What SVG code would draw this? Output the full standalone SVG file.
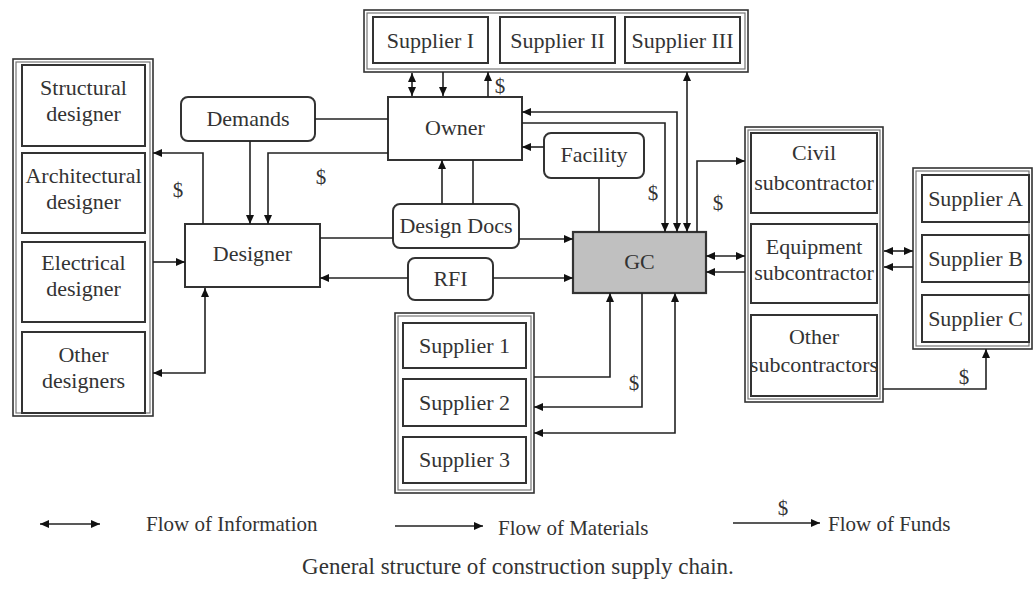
<svg xmlns="http://www.w3.org/2000/svg" width="1036" height="594" viewBox="0 0 1036 594">
  <style>
    .txt { font-family: "Liberation Serif", "Times New Roman", serif; font-size: 22px; fill: #333; text-anchor: middle; }
    .leg { font-family: "Liberation Serif", "Times New Roman", serif; font-size: 21px; fill: #333; }
    .cap { font-family: "Liberation Serif", "Times New Roman", serif; font-size: 23px; fill: #333; text-anchor: middle; }
    .usd { font-family: "Liberation Serif", "Times New Roman", serif; font-size: 21px; fill: #333; text-anchor: middle; }
    .box { fill: #fff; stroke: #333; stroke-width: 2; }
    .rbox { fill: #fff; stroke: #333; stroke-width: 2; }
    .outer { fill: #fff; stroke: #333; stroke-width: 1.6; }
    .inner { fill: none; stroke: #777; stroke-width: 1.2; }
    .ln { fill: none; stroke: #222; stroke-width: 1.6; }
  </style>
  <defs>
    <marker id="ah" markerUnits="userSpaceOnUse" markerWidth="10" markerHeight="10" refX="9" refY="5" orient="auto-start-reverse">
      <path d="M0,1 L9,5 L0,9 Z" fill="#111"/>
    </marker>
  </defs>
  <rect width="1036" height="594" fill="#fff"/>

  <!-- Top supplier group -->
  <g id="top-suppliers">
    <rect class="outer" x="364" y="10" width="384" height="62"/>
    <rect class="inner" x="367" y="13" width="378" height="56"/>
    <g id="supplier-I"><rect class="box" x="373" y="17" width="115" height="46"/><text class="txt" x="430.5" y="48">Supplier I</text></g>
    <g id="supplier-II"><rect class="box" x="500" y="17" width="115" height="46"/><text class="txt" x="557.5" y="48">Supplier II</text></g>
    <g id="supplier-III"><rect class="box" x="625" y="17" width="115" height="46"/><text class="txt" x="682.5" y="48">Supplier III</text></g>
  </g>

  <!-- Designers group -->
  <g id="designers">
    <rect class="outer" x="13" y="59" width="140" height="357"/>
    <rect class="inner" x="16" y="62" width="134" height="351"/>
    <g id="structural"><rect class="box" x="22" y="65" width="123" height="81"/><text class="txt" x="83.5" y="95">Structural</text><text class="txt" x="83.5" y="121">designer</text></g>
    <g id="architectural"><rect class="box" x="22" y="153" width="123" height="80"/><text class="txt" x="83.5" y="183">Architectural</text><text class="txt" x="83.5" y="209">designer</text></g>
    <g id="electrical"><rect class="box" x="22" y="242" width="123" height="80"/><text class="txt" x="83.5" y="270">Electrical</text><text class="txt" x="83.5" y="296">designer</text></g>
    <g id="other-designers"><rect class="box" x="22" y="332" width="123" height="81"/><text class="txt" x="83.5" y="362">Other</text><text class="txt" x="83.5" y="388">designers</text></g>
  </g>

  <g id="demands"><rect class="rbox" x="181" y="97" width="134" height="44" rx="7"/><text class="txt" x="248" y="126">Demands</text></g>
  <g id="owner"><rect class="box" x="388" y="97" width="134" height="63"/><text class="txt" x="455" y="135">Owner</text></g>
  <g id="facility"><rect class="rbox" x="544" y="133" width="100" height="45" rx="7"/><text class="txt" x="594" y="162">Facility</text></g>
  <g id="designer"><rect class="box" x="185" y="224" width="135" height="63"/><text class="txt" x="252.5" y="261">Designer</text></g>
  <g id="design-docs"><rect class="rbox" x="393" y="204" width="126" height="44" rx="7"/><text class="txt" x="456" y="233">Design Docs</text></g>
  <g id="rfi"><rect class="rbox" x="408" y="258" width="85" height="42" rx="7"/><text class="txt" x="450.5" y="286">RFI</text></g>
  <g id="gc"><rect x="573" y="232" width="133" height="61" fill="#c0c0c0" stroke="#333" stroke-width="2.2"/><text class="txt" x="639.5" y="269">GC</text></g>

  <!-- Subcontractors group -->
  <g id="subcontractors">
    <rect class="outer" x="745" y="127" width="138" height="275"/>
    <rect class="inner" x="748" y="130" width="132" height="269"/>
    <g id="civil"><rect class="box" x="751" y="133" width="126" height="80"/><text class="txt" x="814" y="160">Civil</text><text class="txt" x="814" y="190">subcontractor</text></g>
    <g id="equipment"><rect class="box" x="751" y="224" width="126" height="79"/><text class="txt" x="814" y="254">Equipment</text><text class="txt" x="814" y="280">subcontractor</text></g>
    <g id="other-subs"><rect class="box" x="751" y="315" width="126" height="81"/><text class="txt" x="814" y="344">Other</text><text class="txt" x="814" y="372">subcontractors</text></g>
  </g>

  <!-- Suppliers A-C group -->
  <g id="suppliers-abc">
    <rect class="outer" x="913" y="168" width="119" height="181"/>
    <rect class="inner" x="916" y="171" width="113" height="175"/>
    <g id="supplier-A"><rect class="box" x="922" y="175" width="107" height="47"/><text class="txt" x="975.5" y="206">Supplier A</text></g>
    <g id="supplier-B"><rect class="box" x="922" y="235" width="107" height="47"/><text class="txt" x="975.5" y="266">Supplier B</text></g>
    <g id="supplier-C"><rect class="box" x="922" y="295" width="107" height="47"/><text class="txt" x="975.5" y="326">Supplier C</text></g>
  </g>

  <!-- Suppliers 1-3 group -->
  <g id="suppliers-123">
    <rect class="outer" x="395" y="313" width="139" height="180"/>
    <rect class="inner" x="398" y="316" width="133" height="174"/>
    <g id="supplier-1"><rect class="box" x="403" y="323" width="123" height="45"/><text class="txt" x="464.5" y="353">Supplier 1</text></g>
    <g id="supplier-2"><rect class="box" x="403" y="379" width="123" height="47"/><text class="txt" x="464.5" y="410">Supplier 2</text></g>
    <g id="supplier-3"><rect class="box" x="403" y="437" width="123" height="46"/><text class="txt" x="464.5" y="467">Supplier 3</text></g>
  </g>

  <!-- Connectors -->
  <g id="connectors">
    <path class="ln" d="M412,73 V96" marker-start="url(#ah)" marker-end="url(#ah)"/>
    <path class="ln" d="M443,72 V96" marker-end="url(#ah)"/>
    <path class="ln" d="M488,97 V72" marker-end="url(#ah)"/>
    <path class="ln" d="M315,119 H388"/>
    <path class="ln" d="M250,141 V224" marker-end="url(#ah)"/>
    <path class="ln" d="M388,153 H268 V224" marker-end="url(#ah)"/>
    <path class="ln" d="M203,224 V153 H153" marker-end="url(#ah)"/>
    <path class="ln" d="M153,262 H185" marker-end="url(#ah)"/>
    <path class="ln" d="M205,288 V373 H153" marker-start="url(#ah)" marker-end="url(#ah)"/>
    <path class="ln" d="M320,238 H393"/>
    <path class="ln" d="M519,239 H573" marker-end="url(#ah)"/>
    <path class="ln" d="M442,204 V160" marker-end="url(#ah)"/>
    <path class="ln" d="M473,160 V204"/>
    <path class="ln" d="M408,278 H320" marker-end="url(#ah)"/>
    <path class="ln" d="M493,278 H573" marker-end="url(#ah)"/>
    <path class="ln" d="M677,232 V112 H522" marker-start="url(#ah)" marker-end="url(#ah)"/>
    <path class="ln" d="M522,123 H665 V232" marker-end="url(#ah)"/>
    <path class="ln" d="M544,147 H522" marker-end="url(#ah)"/>
    <path class="ln" d="M599,178 V232"/>
    <path class="ln" d="M687,232 V72" marker-start="url(#ah)" marker-end="url(#ah)"/>
    <path class="ln" d="M697,232 V161 H745" marker-end="url(#ah)"/>
    <path class="ln" d="M706,256 H745" marker-start="url(#ah)" marker-end="url(#ah)"/>
    <path class="ln" d="M745,272 H706" marker-end="url(#ah)"/>
    <path class="ln" d="M534,377 H610 V293" marker-end="url(#ah)"/>
    <path class="ln" d="M642,293 V407 H534" marker-end="url(#ah)"/>
    <path class="ln" d="M675,293 V433 H534" marker-start="url(#ah)" marker-end="url(#ah)"/>
    <path class="ln" d="M884,251 H913" marker-start="url(#ah)" marker-end="url(#ah)"/>
    <path class="ln" d="M913,267 H884" marker-end="url(#ah)"/>
    <path class="ln" d="M883,389 H986 V349" marker-end="url(#ah)"/>
    <!-- fund labels -->
    <text class="usd" x="500" y="93">$</text>
    <text class="usd" x="178" y="197">$</text>
    <text class="usd" x="321" y="184">$</text>
    <text class="usd" x="653" y="200">$</text>
    <text class="usd" x="718" y="210">$</text>
    <text class="usd" x="634" y="390">$</text>
    <text class="usd" x="964" y="384">$</text>
  </g>

  <!-- Legend -->
  <g id="legend">
    <path class="ln" d="M40,524 H100" marker-start="url(#ah)" marker-end="url(#ah)"/>
    <text class="leg" x="146" y="531">Flow of Information</text>
    <path class="ln" d="M395,526 H483" stroke-width="2" marker-end="url(#ah)"/>
    <text class="leg" x="498" y="535">Flow of Materials</text>
    <path class="ln" d="M733,523 H820" marker-end="url(#ah)"/>
    <text class="usd" x="783" y="515">$</text>
    <text class="leg" x="828" y="531">Flow of Funds</text>
    <text class="cap" x="518" y="574">General structure of construction supply chain.</text>
  </g>
</svg>
